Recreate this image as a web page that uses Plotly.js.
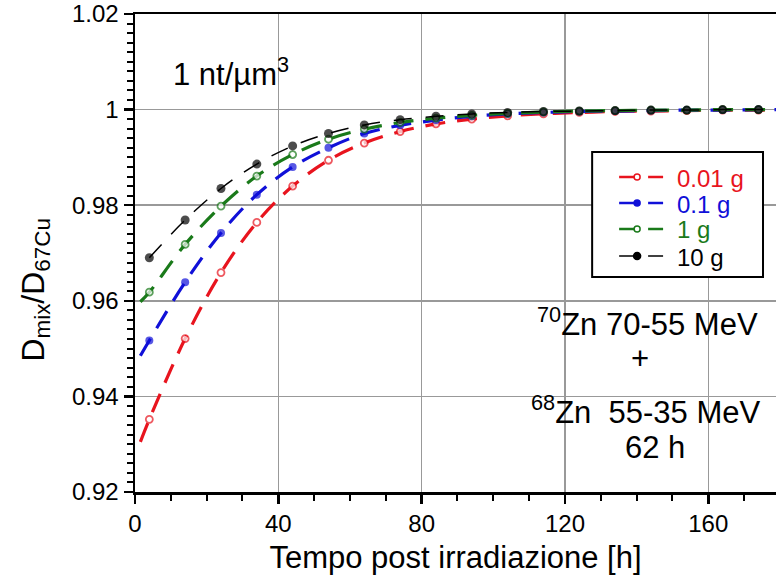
<!DOCTYPE html>
<html>
<head>
<meta charset="utf-8">
<script src="https://cdn.plot.ly/plotly-3.0.1.min.js"></script>
<style>html,body{margin:0;padding:0;background:#fff;}#chart{width:776px;height:582px;}</style>
</head>
<body>
<div id="chart"></div>
<script>
// Hours after irradiation (first value = start of the drawn curve, last = curve reaching the right edge)
const hours = [1.5, 4, 14, 24, 34, 44, 54, 64, 74, 84, 94, 104, 114, 124, 134, 144, 154, 164, 174, 184];
// D_mix / D_67Cu for each target mass
const mass001g = [0.9305, 0.9352, 0.9521, 0.9659, 0.9764, 0.9840, 0.9894, 0.9930, 0.9954, 0.9970, 0.9980, 0.9987, 0.9991, 0.9994, 0.9996, 0.9997, 0.9998, 0.9999, 0.9999, 1.0];
const mass01g  = [0.9485, 0.9517, 0.9639, 0.9742, 0.9822, 0.9880, 0.9920, 0.9950, 0.9967, 0.9978, 0.9986, 0.9991, 0.9994, 0.9996, 0.9997, 0.9998, 0.9999, 0.9999, 1.0, 1.0];
const mass1g   = [0.9598, 0.9618, 0.9718, 0.9798, 0.9861, 0.9906, 0.9938, 0.9959, 0.9973, 0.9982, 0.9988, 0.9992, 0.9995, 0.9997, 0.9998, 0.9999, 0.9999, 1.0, 1.0, 1.0];
const mass10g  = [null, 0.9690, 0.9769, 0.9835, 0.9886, 0.9924, 0.9950, 0.9968, 0.9979, 0.9986, 0.9991, 0.9994, 0.9996, 0.9997, 0.9998, 0.9999, 0.9999, 1.0, 1.0, 1.0];
const seriesNames = ["0.01 g", "0.1 g", "1 g", "10 g"];
const xTicks = [0, 40, 80, 120, 160];
const yTicks = [0.92, 0.94, 0.96, 0.98, 1.0, 1.02];
const yTickText = ["0.92", "0.94", "0.96", "0.98", "1", "1.02"];

const FONT = "Liberation Sans, Arial, Helvetica, sans-serif";
const colors = ["#e8141e", "#1010d8", "#1a7a1a", "#000000"];
const openMarker = [true, false, true, false];
const markerSz = [7, 8, 7, 9];
const lineW = [3.2, 3.2, 3.2, 1.5];
const dashes = ["20px,12px", "20px,12px", "20px,12px", "18px,14px"];
const allSeries = [mass001g, mass01g, mass1g, mass10g];

// plot area geometry (pixels) for placing decorations
const L = 134.5, R = 776, T = 14, B = 492;
const px2x = px => (px - L) / (R - L);
const px2y = py => (B - py) / (B - T);

function sizes(base) {
  return hours.map((h, i) => (i === 0 || i === hours.length - 1) ? 0 : base);
}

const traces = allSeries.map((ys, k) => ({
  type: "scatter",
  mode: "lines+markers",
  x: hours,
  y: ys,
  name: seriesNames[k],
  showlegend: false,
  line: {color: colors[k], width: lineW[k], dash: dashes[k], shape: "spline", smoothing: 1},
  marker: {symbol: "circle", size: sizes(markerSz[k]),
           color: openMarker[k] ? "#fff" : colors[k],
           line: {color: colors[k], width: openMarker[k] ? 1.8 : 0}},
  connectgaps: false,
  cliponaxis: true
}));

const axisCommon = {
  showline: true, linecolor: "#000", linewidth: 2.5,
  ticks: "outside", tickcolor: "#000", tickwidth: 2.5, ticklen: 9,
  showgrid: true, gridcolor: "#999", gridwidth: 1.5,
  zeroline: false,
  tickfont: {family: FONT, size: 24, color: "#000"}
};

// manual legend: box, samples and coloured labels
const legendRowsY = [177, 203, 229, 256];
const shapes = [{
  type: "rect", xref: "paper", yref: "paper", layer: "above",
  x0: px2x(592), x1: px2x(763), y0: px2y(277), y1: px2y(152),
  line: {color: "#000", width: 2}, fillcolor: "#fff"
}];
const legendAnn = [];
seriesNames.forEach((nm, k) => {
  const py = legendRowsY[k];
  shapes.push({type: "line", xref: "paper", yref: "paper", layer: "above",
    x0: px2x(619), x1: px2x(637), y0: px2y(py), y1: px2y(py),
    line: {color: colors[k], width: k === 3 ? 1.5 : 2.5}});
  shapes.push({type: "line", xref: "paper", yref: "paper", layer: "above",
    x0: px2x(648), x1: px2x(663), y0: px2y(py), y1: px2y(py),
    line: {color: colors[k], width: k === 3 ? 1.5 : 2.5}});
  const r = k === 3 ? 3.5 : 3;
  shapes.push({type: "circle", xref: "paper", yref: "paper", layer: "above",
    x0: px2x(637 - r), x1: px2x(637 + r), y0: px2y(py + r), y1: px2y(py - r),
    line: {color: colors[k], width: 1.5}, fillcolor: openMarker[k] ? "#fff" : colors[k]});
  legendAnn.push({xref: "paper", yref: "paper", x: px2x(675), y: px2y(py + 1),
    xanchor: "left", yanchor: "middle", showarrow: false, text: nm,
    font: {family: FONT, size: 24, color: colors[k]}});
});

const layout = {
  width: 776, height: 582,
  margin: {l: L, r: 776 - R, t: T, b: 582 - B, pad: 0},
  paper_bgcolor: "#fff", plot_bgcolor: "#fff",
  font: {family: FONT, color: "#000"},
  showlegend: false,
  xaxis: Object.assign({}, axisCommon, {
    range: [0, 178.9], tickvals: xTicks, ticktext: xTicks.map(String),
    mirror: true,
    minor: {dtick: 10, tick0: 0, ticks: "outside", ticklen: 6, tickwidth: 2, tickcolor: "#000", showgrid: false},
    title: {text: "Tempo post irradiazione [h]", font: {family: FONT, size: 31, color: "#000"}, standoff: 10}
  }),
  yaxis: Object.assign({}, axisCommon, {
    range: [0.92, 1.02], tickvals: yTicks, ticktext: yTickText,
    minor: {dtick: 0.002, tick0: 0.92, ticks: "outside", ticklen: 6, tickwidth: 2, tickcolor: "#000", showgrid: false}
  }),
  xaxis2: {overlaying: "x", anchor: "y", side: "bottom", range: [0, 178.9], tickvals: xTicks,
           ticks: "inside", ticklen: 8, tickwidth: 2.5, tickcolor: "#000",
           showticklabels: false, showgrid: false, showline: false, zeroline: false},
  yaxis2: {overlaying: "y", anchor: "x", side: "left", range: [0.92, 1.02], tickvals: yTicks,
           ticks: "inside", ticklen: 8, tickwidth: 2.5, tickcolor: "#000",
           showticklabels: false, showgrid: false, showline: false, zeroline: false},
  shapes: shapes,
  annotations: [
    {xref: "paper", yref: "paper", x: px2x(34), y: px2y(290), xanchor: "center", yanchor: "middle",
     textangle: -90, text: "D<sub>mix</sub>/D<sub>67Cu</sub>", showarrow: false,
     font: {family: FONT, size: 32, color: "#000"}},
    {xref: "paper", yref: "paper", x: px2x(171), y: px2y(72), xanchor: "left", yanchor: "middle",
     text: "1 nt/µm<sup>3</sup>", showarrow: false, font: {family: FONT, size: 31, color: "#000"}},
    {xref: "paper", yref: "paper", x: px2x(647.5), y: px2y(322), xanchor: "center", yanchor: "middle",
     text: "<sup>70</sup>Zn 70-55 MeV", showarrow: false, font: {family: FONT, size: 31, color: "#000"}},
    {xref: "paper", yref: "paper", x: px2x(640), y: px2y(358), xanchor: "center", yanchor: "middle",
     text: "+", showarrow: false, font: {family: FONT, size: 31, color: "#000"}},
    {xref: "paper", yref: "paper", x: px2x(645), y: px2y(410), xanchor: "center", yanchor: "middle",
     text: "<sup>68</sup>Zn  55-35 MeV", showarrow: false, font: {family: FONT, size: 31, color: "#000"}},
    {xref: "paper", yref: "paper", x: px2x(655), y: px2y(447), xanchor: "center", yanchor: "middle",
     text: "62 h", showarrow: false, font: {family: FONT, size: 31, color: "#000"}}
  ].concat(legendAnn)
};

Plotly.newPlot("chart", traces, layout, {staticPlot: true, displayModeBar: false});
</script>
</body>
</html>
